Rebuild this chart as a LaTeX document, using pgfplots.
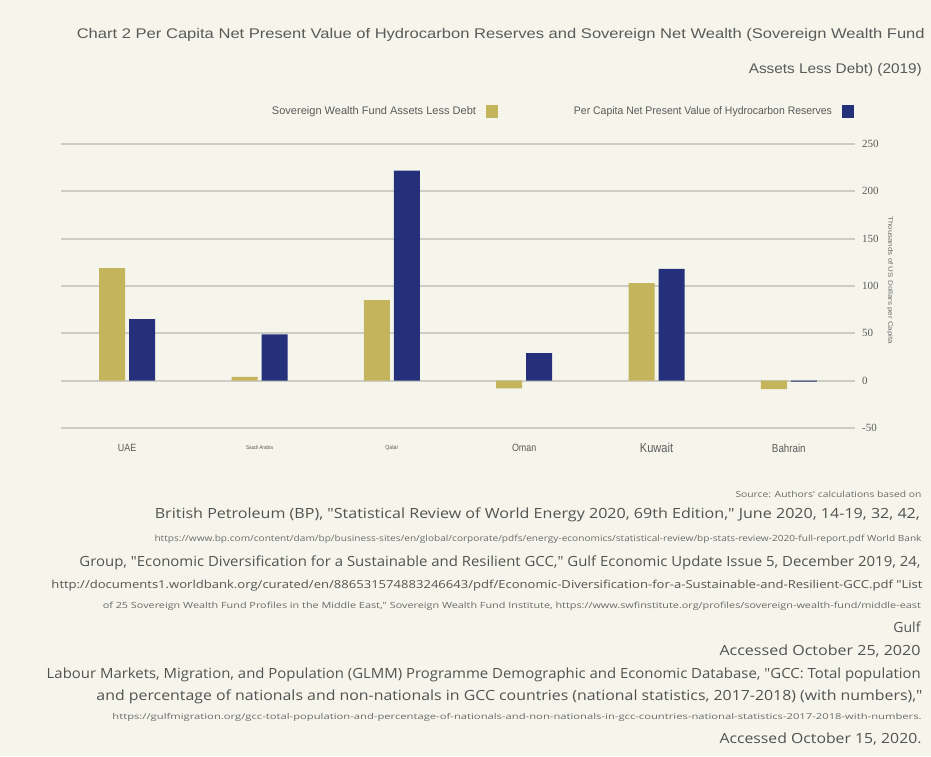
\documentclass[border=0pt]{standalone}
\usepackage{pgfplots}
\pgfplotsset{compat=1.18}
\usepackage{fontspec}
\setmainfont{Liberation Sans}
\newfontfamily\cnd[FakeStretch=0.85]{Liberation Sans}
\newfontfamily\numfont{Liberation Serif}
\newfontfamily\srcfont{Open Sans}

\definecolor{bg}{RGB}{246,245,236}
\definecolor{gold}{RGB}{196,180,92}
\definecolor{navy}{RGB}{36,48,122}
\definecolor{gridc}{RGB}{205,204,197}
\definecolor{titlec}{RGB}{90,90,90}
\definecolor{srcc}{RGB}{82,82,82}
\definecolor{urlc}{RGB}{105,105,105}

% one line of right-aligned text: right x, baseline y, size, width, colour, text
\newcommand\textline[6]{%
  \node[anchor=base east, inner sep=0pt, text=#5] at (#1pt,-#2pt)
    {\fontsize{#3}{#3}\selectfont\resizebox{#4pt}{\height}{#6}};}

\begin{document}
\begin{tikzpicture}
\fill[bg] (0pt,0pt) rectangle (931pt,-756pt);

\begin{axis}[
  at={(61pt,-428pt)}, anchor=south west,
  scale only axis, width=794pt, height=284pt,
  xmin=-0.5, xmax=5.5, ymin=-50, ymax=250,
  axis line style={draw=none},
  major tick length=0pt,
  ybar=4pt, bar width=26pt,
  ytick={-50,0,50,100,150,200,250},
  yticklabels={-50,0,50,100,150,200,250},
  yticklabel pos=right,
  yticklabel style={anchor=west, inner sep=0pt, xshift=7pt,
    font=\numfont\fontsize{11}{12}\selectfont, text=titlec},
  ymajorgrids, grid style={gridc, line width=1.8pt},
  xtick={0,1,2,3,4,5},
  xticklabels={
    {\fontsize{10.5}{12}\selectfont UAE},
    {\fontsize{5.5}{6}\selectfont Saudi Arabia},
    {\fontsize{6}{7}\selectfont Qatar},
    {\fontsize{10.5}{12}\selectfont Oman},
    {\fontsize{13}{14}\selectfont Kuwait},
    {\fontsize{11.5}{13}\selectfont Bahrain}},
  xticklabel style={anchor=center, yshift=-20pt, font=\cnd, text=titlec},
  ylabel={\fontsize{6.5}{7}\selectfont\resizebox{128pt}{\height}{Thousands of US Dollars per Capita}},
  ylabel style={at={(axis description cs:1.044,0.52)}, anchor=center,
    rotate=180, text=urlc},
  legend columns=2,
  legend plot pos=right,
  legend image code/.code={\fill[#1] (0pt,-6.5pt) rectangle (12pt,6.5pt);},
  legend style={at={(axis description cs:0.999,1.116)}, anchor=east,
    draw=none, fill=none, inner sep=0pt, text=titlec,
    font=\fontsize{11}{12}\selectfont,
    /tikz/column 1/.style={column sep=8pt},
    /tikz/column 2/.style={column sep=74pt},
    /tikz/column 3/.style={column sep=8pt}},
]
\addplot[fill=gold, draw=none] coordinates
  {(0,119) (1,4) (2,85) (3,-8) (4,103) (5,-9)};
\addplot[fill=navy, draw=none] coordinates
  {(0,65) (1,49) (2,222) (3,29) (4,118) (5,-1)};
\legend{\resizebox{204pt}{\height}{Sovereign Wealth Fund Assets Less Debt},
        \resizebox{258pt}{\height}{Per Capita Net Present Value of Hydrocarbon Reserves}}
\end{axis}

% title
\textline{925}{38.5}{14}{848}{titlec}{Chart 2 Per Capita Net Present Value of Hydrocarbon Reserves and Sovereign Net Wealth (Sovereign Wealth Fund}
\textline{922}{73.5}{14}{173}{titlec}{Assets Less Debt) (2019)}

% sources
\begin{scope}[every node/.append style={font=\srcfont}]
\textline{921.7}{497}{8.5}{186}{urlc}{Source: Authors' calculations based on}
\textline{920}{518}{14}{765}{srcc}{British Petroleum (BP), "Statistical Review of World Energy 2020, 69th Edition," June 2020, 14-19, 32, 42,}
\textline{921.7}{541}{8.5}{767}{urlc}{https://www.bp.com/content/dam/bp/business-sites/en/global/corporate/pdfs/energy-economics/statistical-review/bp-stats-review-2020-full-report.pdf World Bank}
\textline{920.7}{566}{14}{841}{srcc}{Group, "Economic Diversification for a Sustainable and Resilient GCC," Gulf Economic Update Issue 5, December 2019, 24,}
\textline{922.7}{588}{11}{871}{srcc}{http://documents1.worldbank.org/curated/en/886531574883246643/pdf/Economic-Diversification-for-a-Sustainable-and-Resilient-GCC.pdf "List}
\textline{921}{608}{8.5}{818}{urlc}{of 25 Sovereign Wealth Fund Profiles in the Middle East," Sovereign Wealth Fund Institute, https://www.swfinstitute.org/profiles/sovereign-wealth-fund/middle-east}
\node[anchor=base east, inner sep=0pt, text=srcc] at (920.7pt,-632pt) {\fontsize{14}{14}\selectfont Gulf};
\textline{920.7}{655}{14}{201}{srcc}{Accessed October 25, 2020}
\textline{921}{678}{14}{874}{srcc}{Labour Markets, Migration, and Population (GLMM) Programme Demographic and Economic Database, "GCC: Total population}
\textline{922.7}{700}{14}{826}{srcc}{and percentage of nationals and non-nationals in GCC countries (national statistics, 2017-2018) (with numbers),"}
\textline{921.7}{719}{8}{809}{urlc}{https://gulfmigration.org/gcc-total-population-and-percentage-of-nationals-and-non-nationals-in-gcc-countries-national-statistics-2017-2018-with-numbers.}
\textline{921.7}{743}{14}{202}{srcc}{Accessed October 15, 2020.}
\end{scope}

\pgfresetboundingbox
\useasboundingbox (0pt,0pt) rectangle (931pt,-756pt);
\end{tikzpicture}
\end{document}
